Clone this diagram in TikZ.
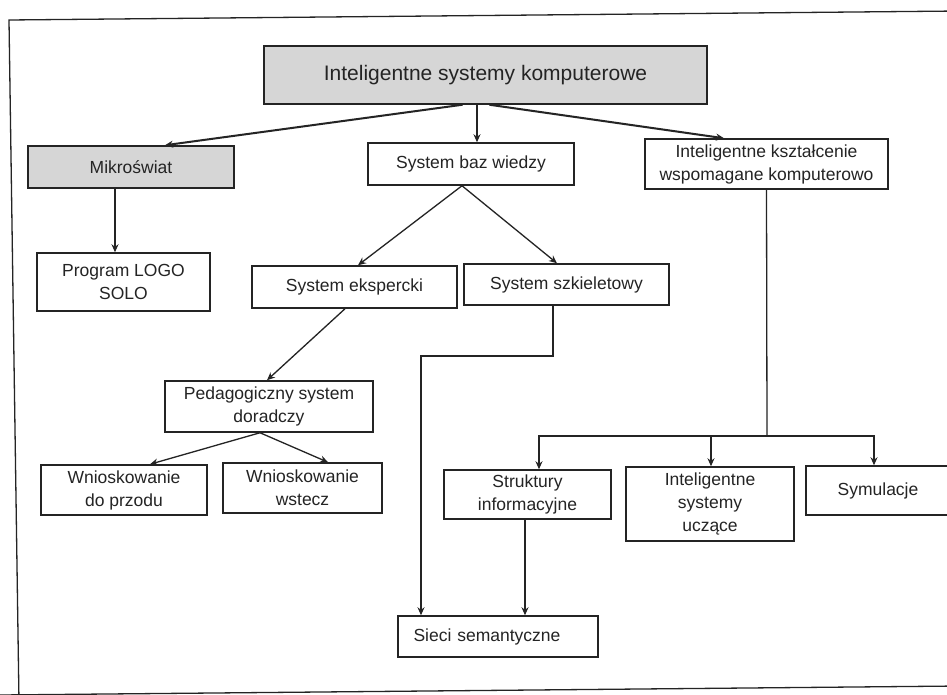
\documentclass[tikz,border=0pt]{standalone}
\usepackage{fontspec}
\setmainfont{Liberation Sans}
\usetikzlibrary{arrows.meta}
\definecolor{ink}{gray}{0.14}
\definecolor{shade}{gray}{0.84}
\tikzset{
  box/.style={draw=ink, line width=1.5pt, rectangle, inner sep=0pt,
    align=center, text=ink, font=\fontsize{17.5}{23}\selectfont},
  shadedbox/.style={box, fill=shade},
  link/.style={draw=ink, line width=1.3pt, -{Stealth[length=8pt,width=7pt]}},
  heavylink/.style={link, line width=2pt},
  plain/.style={draw=ink, line width=1.3pt},
}
\begin{document}
\begin{tikzpicture}[x=1pt,y=-1pt]
\useasboundingbox (0,0) rectangle (947,695);
\fill[white] (0,0) rectangle (947,695);
% outer frame of the figure
\draw[ink, line width=1.3pt] (19,702) -- (9,20) -- (960,11);
\draw[ink, line width=1.3pt] (0,695) -- (960,686);

% boxes
\node[shadedbox, minimum width=443, minimum height=58, font=\fontsize{21}{25}\selectfont] (top) at (485.5,75) {Inteligentne systemy komputerowe};
\node[shadedbox, minimum width=206, minimum height=42] (mikro) at (131,167) {Mikroświat};
\node[box, minimum width=206, minimum height=42] (sbw) at (471,164) {System baz wiedzy};
\node[box, minimum width=243, minimum height=50] (ikwk) at (766.5,164) {Inteligentne kształcenie\\wspomagane komputerowo};
\node[box, minimum width=173, minimum height=58] (logo) at (123.5,282) {Program LOGO\\SOLO};
\node[box, minimum width=205, minimum height=42] (eksp) at (354.5,287) {System ekspercki};
\node[box, minimum width=205, minimum height=41] (szkiel) at (566.5,284.5) {System szkieletowy};
\node[box, minimum width=208, minimum height=51] (ped) at (269,406.5) {Pedagogiczny system\\doradczy};
\node[box, minimum width=166, minimum height=50] (wdp) at (124,490) {Wnioskowanie\\do przodu};
\node[box, minimum width=159, minimum height=50] (wst) at (302.5,488) {Wnioskowanie\\wstecz};
\node[box, minimum width=167, minimum height=49] (strukt) at (527.5,494.5) {Struktury\\informacyjne};
\node[box, minimum width=168, minimum height=74] (isu) at (710,504) {Inteligentne\\systemy\\uczące};
\node[box, minimum width=144, minimum height=49] (sym) at (878,490.5) {Symulacje};
\node[box, minimum width=200, minimum height=41, text width=190] (sieci) at (498,636.5) {\hspace*{-22pt}Sieci semantyczne};

% connectors
\draw[heavylink] ([xshift=-23]top.south) -- ([xshift=34]mikro.north);
\draw[link] ([xshift=-8.5]top.south) -- ([xshift=-8.5]top.south |- sbw.north);
\draw[heavylink] ([xshift=4]top.south) -- ([xshift=-42.5]ikwk.north);

\draw[link] ([xshift=-16]mikro.south) -- ([xshift=-16]mikro.south |- logo.north);

\draw[link] ([xshift=-9]sbw.south) -- ([xshift=3.5]eksp.north);
\draw[link] ([xshift=-9]sbw.south) -- ([xshift=-9.5]szkiel.north);

\draw[link] ([xshift=-9.5]eksp.south) -- ([xshift=-2]ped.north);
\draw[link] ([xshift=-9]ped.south) -- ([xshift=26]wdp.north);
\draw[link] ([xshift=-9]ped.south) -- ([xshift=25.5]wst.north);

\coordinate (knee) at (553,356);
\draw[link] ([xshift=-13.5]szkiel.south) -- (knee) -| ([xshift=-77]sieci.north);
\draw[link] ([xshift=-2.5]strukt.south) -- ([xshift=-2.5]sieci.north -| strukt.south);

\coordinate (bus) at (767,436);
\draw[plain] (ikwk.south) -- (bus);
\draw[link] (bus) -| ([xshift=11.5]strukt.north);
\draw[link] (bus) -| ([xshift=-4]sym.north);
\draw[link] ([xshift=1]isu.north |- bus) -- ([xshift=1]isu.north);
\end{tikzpicture}
\end{document}
